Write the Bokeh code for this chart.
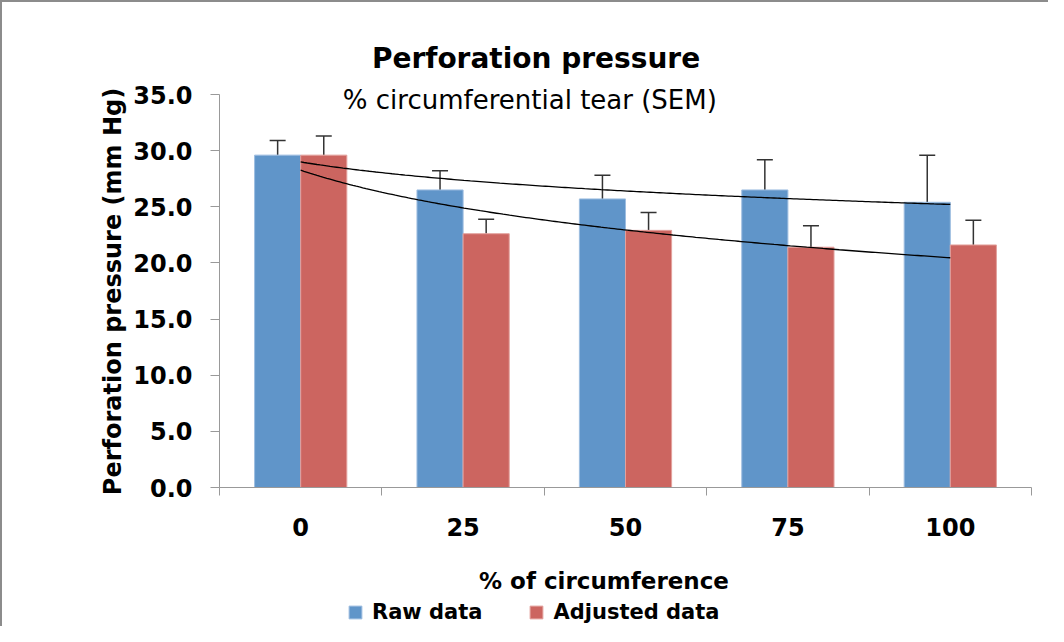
import math
import numpy as np
from bokeh.plotting import figure
from bokeh.models import (ColumnDataSource, Range1d, FixedTicker, NumeralTickFormatter,
                          Whisker, TeeHead, Label, Legend, LegendItem)
from bokeh.embed import file_html
from bokeh.resources import INLINE

# ---- data ----
categories = ["0", "25", "50", "75", "100"]
raw_data = [29.6, 26.5, 25.7, 26.5, 25.4]
raw_sem = [1.3, 1.7, 2.1, 2.7, 4.2]
adjusted_data = [29.6, 22.6, 22.9, 21.4, 21.6]
adjusted_sem = [1.7, 1.3, 1.6, 1.9, 2.2]
y_ticks = [0, 5, 10, 15, 20, 25, 30, 35]

title_text = "Perforation pressure"
subtitle_text = "%  circumferential tear (SEM)"
x_title = "% of circumference"
y_title = "Perforation pressure (mm Hg)"

FONT = "DejaVu Sans"
BLUE = "#6095c9"
RED = "#cc6560"

# ---- layout (pixels in the picture) ----
W, H = 1048, 626
BORDER = 2
PX_LEFT, PX_RIGHT = 219, 1031     # picture x of the category-axis ends
PX_ZERO, PX_TOP = 487, 94         # picture y of value 0 and value 35
Y_MAX = 35.0
N = len(categories)


def xd(px):
    return 0.5 + (px - PX_LEFT) / (PX_RIGHT - PX_LEFT) * N


def yd(py):
    return (PX_ZERO - py) / (PX_ZERO - PX_TOP) * Y_MAX


xpos = np.arange(1, N + 1)
bw = 0.284

src = ColumnDataSource(dict(
    xr=xpos - bw / 2, xa=xpos + bw / 2,
    raw=raw_data, adj=adjusted_data,
    raw_up=np.array(raw_data) + np.array(raw_sem),
    adj_up=np.array(adjusted_data) + np.array(adjusted_sem),
))

p = figure(width=W, height=H,
           x_range=Range1d(xd(BORDER), xd(BORDER + W)),
           y_range=Range1d(yd(BORDER + H), yd(BORDER)),
           output_backend="svg", toolbar_location=None, tools="")
p.min_border_left = 0
p.min_border_right = 0
p.min_border_top = 0
p.min_border_bottom = 0
p.title.visible = False
p.outline_line_color = None
p.grid.visible = False
p.background_fill_color = "white"
p.border_fill_color = "white"
p.styles = {"border-top": "2px solid #8c8c8c", "border-left": "2px solid #8c8c8c"}

r_raw = p.vbar(x="xr", top="raw", width=bw, source=src, fill_color=BLUE,
               line_color="#9dbde0", line_width=1)
r_adj = p.vbar(x="xa", top="adj", width=bw, source=src, fill_color=RED,
               line_color="#e3a19d", line_width=1)

for base, lo, up in (("xr", "raw", "raw_up"), ("xa", "adj", "adj_up")):
    w = Whisker(base=base, lower=lo, upper=up, source=src, line_color="#333333",
                line_width=1.5, lower_head=None,
                upper_head=TeeHead(size=16, line_color="#333333", line_width=1.5))
    p.add_layout(w)

# logarithmic trendlines (least squares on ln x), as in the original chart
xs = np.linspace(1, N, 200)
for vals in (raw_data, adjusted_data):
    a, b = np.polyfit(np.log(xpos), vals, 1)
    p.line(xs, a * np.log(xs) + b, line_color="black", line_width=1.3)

# ---- axes (pinned at the value/category origin) ----
xa = p.xaxis[0]
xa.fixed_location = 0
xa.bounds = (0.5, N + 0.5)
xa.ticker = FixedTicker(ticks=list(xpos), minor_ticks=list(np.arange(0.5, N + 1, 1.0)))
xa.major_label_overrides = {int(i): c for i, c in zip(xpos, categories)}
xa.major_tick_out = 0
xa.major_tick_in = 0
xa.minor_tick_out = 8
xa.minor_tick_in = 0
xa.minor_tick_line_color = "#999999"
xa.axis_line_color = "#999999"
xa.major_label_standoff = 22
xa.major_label_text_font = FONT
xa.major_label_text_font_style = "bold"
xa.major_label_text_font_size = "24px"
xa.major_label_text_color = "black"

ya = p.yaxis[0]
ya.fixed_location = 0.5
ya.bounds = (0, Y_MAX)
ya.ticker = FixedTicker(ticks=y_ticks)
ya.formatter = NumeralTickFormatter(format="0.0")
ya.minor_tick_out = 0
ya.minor_tick_in = 0
ya.major_tick_out = 9
ya.major_tick_in = 0
ya.major_tick_line_color = "#999999"
ya.axis_line_color = "#999999"
ya.major_label_standoff = 18
ya.major_label_text_font = FONT
ya.major_label_text_font_style = "bold"
ya.major_label_text_font_size = "24px"
ya.major_label_text_color = "black"


def add_text(text, px, py, size, bold=True, angle=0.0, baseline="alphabetic"):
    p.add_layout(Label(x=xd(px), y=yd(py), text=text, angle=angle,
                       text_align="center", text_baseline=baseline,
                       text_font=FONT, text_font_style="bold" if bold else "normal",
                       text_font_size=size, text_color="black"))


add_text(title_text, 535.5, 58, "28px")
add_text(subtitle_text, 533.5, 99, "26px", bold=False)
add_text(x_title, 603.5, 580, "23px")
add_text(y_title, 112, 291, "24px", angle=math.pi / 2, baseline="middle")

legend = Legend(items=[LegendItem(label="Raw data", renderers=[r_raw]),
                       LegendItem(label="Adjusted data", renderers=[r_adj])],
                location=(347 - BORDER, BORDER + H - 624), orientation="horizontal",
                background_fill_alpha=0, border_line_color=None,
                padding=0, margin=0, spacing=46, glyph_width=16, glyph_height=16,
                label_standoff=9, label_text_font=FONT, label_text_font_style="bold",
                label_text_font_size="21px", label_text_color="black")
p.add_layout(legend)

open("out.html", "w").write(file_html(p, INLINE))
